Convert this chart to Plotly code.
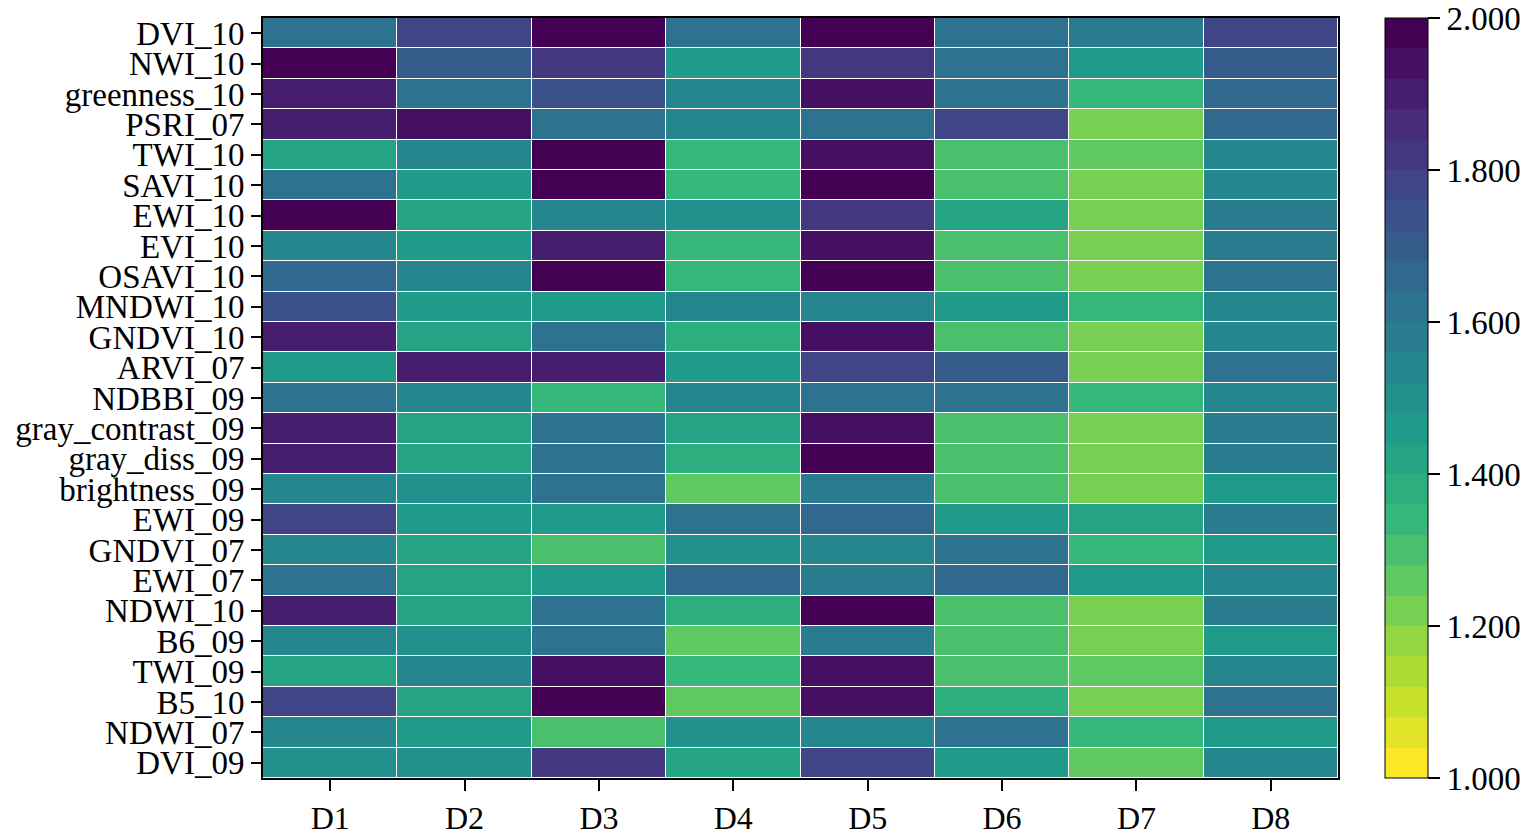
import plotly.graph_objects as go
from plotly.colors import sample_colorscale

rows = ["DVI_10", "NWI_10", "greenness_10", "PSRI_07", "TWI_10", "SAVI_10", "EWI_10",
        "EVI_10", "OSAVI_10", "MNDWI_10", "GNDVI_10", "ARVI_07", "NDBBI_09",
        "gray_contrast_09", "gray_diss_09", "brightness_09", "EWI_09", "GNDVI_07",
        "EWI_07", "NDWI_10", "B6_09", "TWI_09", "B5_10", "NDWI_07", "DVI_09"]
cols = ["D1", "D2", "D3", "D4", "D5", "D6", "D7", "D8"]

values = [
    [1.64, 1.76, 2.00, 1.63, 2.00, 1.60, 1.56, 1.77],
    [2.00, 1.70, 1.82, 1.46, 1.83, 1.62, 1.46, 1.70],
    [1.88, 1.64, 1.72, 1.52, 1.93, 1.63, 1.35, 1.68],
    [1.90, 1.94, 1.64, 1.52, 1.64, 1.78, 1.20, 1.68],
    [1.42, 1.54, 2.00, 1.33, 1.94, 1.30, 1.27, 1.55],
    [1.64, 1.44, 2.00, 1.34, 2.00, 1.30, 1.20, 1.55],
    [2.00, 1.42, 1.52, 1.49, 1.83, 1.40, 1.20, 1.56],
    [1.55, 1.47, 1.91, 1.34, 1.94, 1.30, 1.20, 1.56],
    [1.66, 1.52, 2.00, 1.34, 2.00, 1.30, 1.20, 1.61],
    [1.75, 1.47, 1.46, 1.55, 1.55, 1.44, 1.32, 1.52],
    [1.88, 1.43, 1.64, 1.39, 1.93, 1.30, 1.20, 1.55],
    [1.44, 1.88, 1.88, 1.47, 1.76, 1.71, 1.20, 1.64],
    [1.64, 1.52, 1.34, 1.52, 1.64, 1.64, 1.35, 1.55],
    [1.88, 1.43, 1.64, 1.40, 1.93, 1.30, 1.20, 1.56],
    [1.88, 1.43, 1.64, 1.39, 2.00, 1.30, 1.20, 1.56],
    [1.52, 1.49, 1.64, 1.26, 1.56, 1.30, 1.20, 1.44],
    [1.76, 1.46, 1.44, 1.64, 1.68, 1.47, 1.40, 1.56],
    [1.52, 1.43, 1.28, 1.49, 1.55, 1.64, 1.32, 1.47],
    [1.64, 1.43, 1.47, 1.68, 1.59, 1.68, 1.45, 1.55],
    [1.88, 1.43, 1.64, 1.39, 2.00, 1.30, 1.20, 1.56],
    [1.52, 1.49, 1.64, 1.26, 1.56, 1.30, 1.20, 1.44],
    [1.43, 1.55, 1.93, 1.34, 1.93, 1.30, 1.27, 1.55],
    [1.76, 1.43, 2.00, 1.26, 1.93, 1.36, 1.20, 1.61],
    [1.52, 1.46, 1.30, 1.49, 1.55, 1.64, 1.32, 1.47],
    [1.49, 1.49, 1.83, 1.40, 1.76, 1.45, 1.27, 1.52],
]

cbar_ticks = [1.0, 1.2, 1.4, 1.6, 1.8, 2.0]
cbar_ticktext = ["1.000", "1.200", "1.400", "1.600", "1.800", "2.000"]

# 25-level discrete reversed viridis
n_bins = 25
bin_colors = sample_colorscale("Viridis", [1 - i / (n_bins - 1) for i in range(n_bins)])
colorscale = []
for i, c in enumerate(bin_colors):
    colorscale.append([i / n_bins, c])
    colorscale.append([(i + 1) / n_bins, c])

FONT = "Liberation Serif"

fig = go.Figure(go.Heatmap(
    z=values, x=cols, y=rows,
    zmin=1.0, zmax=2.0,
    colorscale=colorscale,
    xgap=1, ygap=1,
    colorbar=dict(
        x=1.0437, xanchor="left", xref="paper", xpad=0,
        y=0.5, yanchor="middle", len=1.0, lenmode="fraction", ypad=0,
        thickness=43, thicknessmode="pixels",
        outlinecolor="black", outlinewidth=1,
        tickvals=cbar_ticks, ticktext=cbar_ticktext,
        ticks="outside", ticklen=12, tickwidth=1.5, tickcolor="black",
        tickfont=dict(family=FONT, size=33, color="black"),
    ),
))

fig.update_layout(
    width=1536, height=835,
    margin=dict(l=263, r=198, t=18, b=57, autoexpand=False),
    paper_bgcolor="white", plot_bgcolor="white",
    font=dict(family=FONT, size=33, color="black"),
)
fig.update_xaxes(
    tickmode="array", tickvals=cols, ticktext=cols, automargin=False,
    showline=True, linecolor="black", linewidth=2, mirror=True,
    ticks="outside", ticklen=11, tickwidth=2, tickcolor="black",
    tickfont=dict(family=FONT, size=32, color="black"),
    showgrid=False, zeroline=False,
)
fig.update_yaxes(
    tickmode="array", tickvals=rows, ticktext=rows, automargin=False,
    autorange="reversed",
    showline=True, linecolor="black", linewidth=2, mirror=True,
    ticks="outside", ticklen=10, tickwidth=2, tickcolor="black",
    tickfont=dict(family=FONT, size=33, color="black"),
    showgrid=False, zeroline=False,
)

fig.write_html(
    "out.html",
    config={"displayModeBar": False},
    post_script="document.body.style.margin='0';document.body.style.overflow='hidden';",
)
